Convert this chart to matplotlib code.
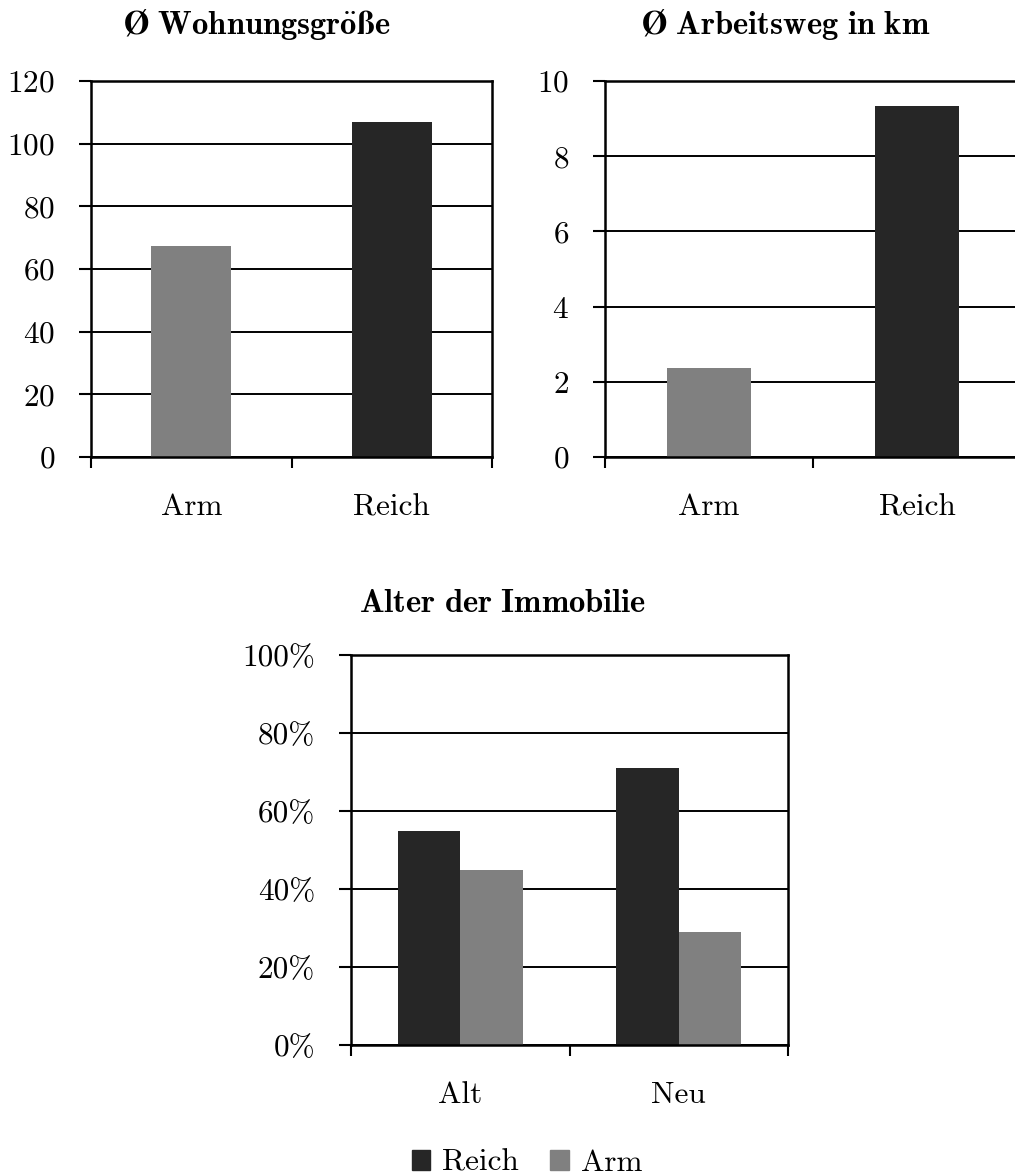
import matplotlib
matplotlib.use("Agg")
import matplotlib.pyplot as plt
from matplotlib.patches import Patch

plt.rcParams['font.family'] = ['cmr10', 'DejaVu Serif']
plt.rcParams['mathtext.fontset'] = 'cm'
plt.rcParams['axes.formatter.use_mathtext'] = True

# Daten
kategorien = ['Arm', 'Reich']
wohnung = [67.5, 107]
arbeitsweg = [2.38, 9.33]

alter_kat = ['Alt', 'Neu']
alter_reich = [55, 71]
alter_arm = [45, 29]

GRAU = '#808080'
DUNKEL = '#262626'
W, H = 1015, 1176
FS = 22.5

fig = plt.figure(figsize=(W / 100, H / 100), dpi=100)


def px_axes(left, right, top, bottom):
    return fig.add_axes([left / W, 1 - bottom / H, (right - left) / W, (bottom - top) / H])


def style(ax):
    ax.set_xlim(0, 2)
    ax.set_xticks([0, 1, 2])
    ax.set_xticklabels([])
    ax.set_xticks([0.5, 1.5], minor=True)
    ax.tick_params(axis='x', which='major', length=8, width=1.5, direction='out')
    ax.tick_params(axis='x', which='minor', length=0, pad=26, labelsize=FS)
    ax.tick_params(axis='y', length=9, width=1.5, direction='out', pad=17, labelsize=FS)
    ax.yaxis.grid(True, color='black', linewidth=1.4)
    ax.set_axisbelow(True)
    for s in ax.spines.values():
        s.set_linewidth(1.8)


def titel(x, y, s):
    fig.text(x / W, 1 - y / H, s, ha='center', va='center', fontsize=23.5)


# Wohnungsgroesse
ax1 = px_axes(91, 492, 81, 457)
ax1.bar([0.5, 1.5], wohnung, width=0.4, color=[GRAU, DUNKEL])
ax1.set_ylim(0, 120)
ax1.set_yticks(range(0, 121, 20))
style(ax1)
ax1.set_xticklabels(kategorien, minor=True)
titel(257, 25, r'$\mathbf{\O\ Wohnungsgr\ddot{o}\ss e}$')

# Arbeitsweg
ax2 = px_axes(605, 1021, 81, 457)
ax2.bar([0.5, 1.5], arbeitsweg, width=0.4, color=[GRAU, DUNKEL])
ax2.set_ylim(0, 10)
ax2.set_yticks(range(0, 11, 2))
style(ax2)
ax2.set_xticklabels(kategorien, minor=True)
titel(786, 25, r'$\mathbf{\O\ Arbeitsweg\ in\ km}$')

# Alter der Immobilie
ax3 = px_axes(351, 788, 655, 1045)
bw = 0.285
ax3.bar([0.5 - bw / 2, 1.5 - bw / 2], alter_reich, width=bw, color=DUNKEL)
ax3.bar([0.5 + bw / 2, 1.5 + bw / 2], alter_arm, width=bw, color=GRAU)
ax3.set_ylim(0, 100)
ax3.set_yticks(range(0, 101, 20))
ax3.set_yticklabels([f'{v}%' for v in range(0, 101, 20)])
style(ax3)
ax3.set_xticklabels(alter_kat, minor=True)
titel(503, 603, r'$\mathbf{Alter\ der\ Immobilie}$')

handles = [Patch(color=DUNKEL, label='Reich'), Patch(color=GRAU, label='Arm')]
fig.legend(handles=handles, loc='center', bbox_to_anchor=(527 / W, 1 - 1163 / H),
           ncol=2, frameon=False, fontsize=FS, handlelength=0.6, handleheight=0.6,
           handletextpad=0.38, columnspacing=1.0)

fig.savefig('out.png', dpi=100)
